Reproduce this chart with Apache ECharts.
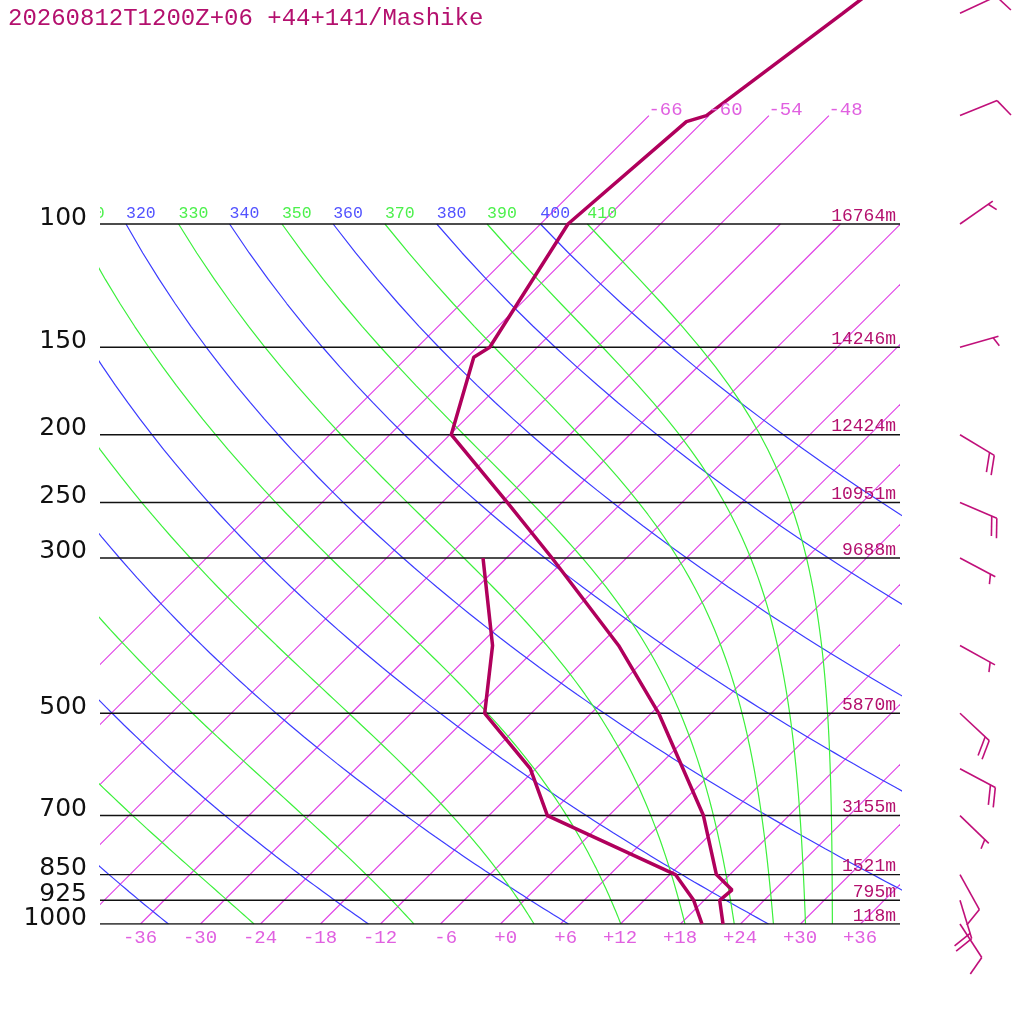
<!DOCTYPE html>
<html>
<head>
<meta charset="utf-8">
<style>
  html, body { margin: 0; background: #fff; }
  #chart { width: 1024px; height: 1024px; }
</style>
<script src="https://cdn.jsdelivr.net/npm/echarts@6.0.0/dist/echarts.min.js"></script>
</head>
<body>
<div id="chart"></div>
<script>
var chartDom = document.getElementById('chart');
var myChart = echarts.init(chartDom, null, { renderer: 'canvas' });

const TITLE = '20260812T1200Z+06 +44+141/Mashike';

// pressure levels drawn as horizontal lines, with geopotential heights
const pressureLevels = [100, 150, 200, 250, 300, 500, 700, 850, 925, 1000];
const heights = [16764, 14246, 12424, 10951, 9688, 5870, 3155, 1521, 795, 118];

// background grid
const isotherms = [-66, -60, -54, -48, -42, -36, -30, -24, -18, -12, -6, 0, 6, 12, 18, 24, 30, 36];
const isothermsTo70 = [-66, -60, -54, -48];
const tempTicks = [-36, -30, -24, -18, -12, -6, 0, 6, 12, 18, 24, 30, 36];
const dryTheta = [240, 260, 280, 300, 320, 340, 360, 380, 400];
const moistThetaE = [250, 270, 290, 310, 330, 350, 370, 390, 410];

// sounding
const tempP = [1000, 925, 894, 850, 700, 500, 400, 300, 250, 200, 155, 150, 100, 71.4, 70, 50, 40];
const tempC = [22.3, 19.6, 19.8, 16.7, 9.5, -5.2, -16.0, -31.4, -41.4, -53.8, -59.3, -58.7, -63.2, -61.6, -60.2, -56.8, -54.6];
const dewP = [1000, 925, 850, 700, 600, 500, 400, 300];
const dewC = [20.2, 17.0, 12.6, -6.1, -12.5, -22.6, -28.6, -38.3];

// winds (direction deg, speed kt)
const windP = [50, 70, 100, 150, 200, 250, 300, 400, 500, 600, 700, 850, 925, 1000];
const windDir = [65, 68, 55, 74, 121, 113, 118, 119, 133, 118, 134, 151, 163, 147];
const windKt = [10, 10, 5, 5, 20, 20, 5, 5, 20, 20, 5, 10, 20, 10];

const SKEW = 70;          // deg C of skew per decade of pressure
const BARB_X = 46;        // x (skewed units) where barbs are anchored
const Y_TOP = 924 / 700;  // top of plot in log10(1000/p)

const C_ISO = '#e040e6', C_DRY = '#3c3cff', C_MOIST = '#3cf03c';
const C_SND = '#b0005c', C_TXT = '#b4106e';

function lp(p) { return Math.log10(1000 / p); }
function sk(t, p) { return [t + SKEW * lp(p), lp(p)]; }

// thermodynamics for the adiabats
function esat(tc) { return 6.112 * Math.exp(17.67 * tc / (tc + 243.5)); }
function rsat(tk, p) { const e = esat(tk - 273.15); return 0.622 * e / (p - e); }
function thetaE(tk, p) {
  const r = rsat(tk, p) * 1000;
  return tk * Math.pow(1000 / p, 0.2854 * (1 - 0.28e-3 * r)) *
    Math.exp((3.376 / tk - 0.00254) * r * (1 + 0.81e-3 * r));
}
function lapse(tk, p) {
  const rs = rsat(tk, p);
  const lv = 2.501e6 - 2370 * (tk - 273.15);
  return (287.04 * tk + lv * rs) /
    (p * (1005.7 + lv * lv * rs * 0.622 / (287.04 * tk * tk)));
}
function moistLine(te) {
  let lo = 200, hi = 330;
  for (let i = 0; i < 60; i++) {
    const mid = (lo + hi) / 2;
    if (thetaE(mid, 1000) > te) hi = mid; else lo = mid;
  }
  let t = (lo + hi) / 2, p = 1000;
  const pts = [sk(t - 273.15, p)];
  const dp = -2;
  while (p > 100.5) {
    const k1 = lapse(t, p);
    const k2 = lapse(t + dp / 2 * k1, p + dp / 2);
    const k3 = lapse(t + dp / 2 * k2, p + dp / 2);
    const k4 = lapse(t + dp * k3, p + dp);
    t += dp / 6 * (k1 + 2 * k2 + 2 * k3 + k4);
    p += dp;
    if (Math.round(p) % 10 === 0) pts.push(sk(t - 273.15, p));
  }
  return pts;
}
function dryLine(th) {
  const pts = [];
  for (let p = 1000; p >= 100; p -= 10) pts.push(sk(th * Math.pow(p / 1000, 0.2857) - 273.15, p));
  return pts;
}

function plain(data, color, width, z) {
  return {
    type: 'line', data: data, symbol: 'none', silent: true, z: z,
    color: color,
    itemStyle: { color: color },
    lineStyle: { color: color, width: width, opacity: 1 }
  };
}

const series = [];

// isotherms: straight segments, 1000 hPa up to their top level
series.push({
  type: 'custom', coordinateSystem: 'cartesian2d', clip: true, silent: true, z: 2,
  data: isotherms.map(t => [t, isothermsTo70.includes(t) ? 70 : 100]),
  renderItem: (params, api) => {
    const t = api.value(0), top = api.value(1);
    const a = api.coord(sk(t, 1000)), b = api.coord(sk(t, top));
    return {
      type: 'line', shape: { x1: a[0] + 0.5, y1: a[1], x2: b[0] + 0.5, y2: b[1] },
      style: { stroke: C_ISO, lineWidth: 1.15 }
    };
  }
});

const dryLines = dryTheta.map(dryLine);
const moistLines = moistThetaE.map(moistLine);
dryLines.forEach(d => series.push(plain(d, C_DRY, 1.2, 2)));
moistLines.forEach(d => series.push(plain(d, C_MOIST, 1.2, 2)));
pressureLevels.forEach(p => series.push(plain([[-40, lp(p)], [40, lp(p)]], '#111', 1.4, 3)));

series.push(plain(tempP.map((p, i) => sk(tempC[i], p)), C_SND, 3.5, 5));
series.push(plain(dewP.map((p, i) => sk(dewC[i], p)), C_SND, 3.5, 5));

// theta / theta-e labels at 100 hPa (clipped to the plot)
const thetaLabels = [];
dryTheta.forEach((th, i) => thetaLabels.push({ v: th, c: '#5252ff', pt: dryLines[i][dryLines[i].length - 1] }));
moistThetaE.forEach((th, i) => thetaLabels.push({ v: th, c: '#4cf04c', pt: moistLines[i][moistLines[i].length - 1] }));
series.push({
  type: 'custom', coordinateSystem: 'cartesian2d', clip: true, silent: true, z: 6,
  data: thetaLabels.map(l => l.pt),
  renderItem: (params, api) => {
    const c = api.coord([api.value(0), api.value(1)]);
    const l = thetaLabels[params.dataIndex];
    return {
      type: 'text', x: c[0], y: c[1] - 1.5,
      style: { text: String(l.v), fill: l.c, fontSize: 16.5, fontFamily: 'Liberation Mono', align: 'left', verticalAlign: 'bottom' }
    };
  }
});

// isotherm labels at 70 hPa
series.push({
  type: 'custom', coordinateSystem: 'cartesian2d', clip: false, silent: true, z: 6,
  data: isothermsTo70.map(t => sk(t, 70)),
  renderItem: (params, api) => {
    const c = api.coord([api.value(0), api.value(1)]);
    return {
      type: 'text', x: c[0], y: c[1] + 4,
      style: { text: String(isothermsTo70[params.dataIndex]), fill: '#e060e0', fontSize: 19, fontFamily: 'Liberation Mono', align: 'left', verticalAlign: 'bottom' }
    };
  }
});

// heights on the right
series.push({
  type: 'custom', coordinateSystem: 'cartesian2d', clip: false, silent: true, z: 6,
  data: pressureLevels.map(p => [40, lp(p)]),
  renderItem: (params, api) => {
    const c = api.coord([api.value(0), api.value(1)]);
    return {
      type: 'text', x: c[0] - 4, y: c[1] + 1,
      style: { text: heights[params.dataIndex] + 'm', fill: C_TXT, fontSize: 18, fontFamily: 'Liberation Mono', align: 'right', verticalAlign: 'bottom' }
    };
  }
});

// pressure labels on the left
series.push({
  type: 'custom', coordinateSystem: 'cartesian2d', clip: false, silent: true, z: 6,
  data: pressureLevels.map(p => [-40, lp(p)]),
  renderItem: (params, api) => {
    const c = api.coord([api.value(0), api.value(1)]);
    return {
      type: 'text', x: c[0] - 13, y: c[1] - 6,
      style: { text: String(pressureLevels[params.dataIndex]), fill: '#111', fontSize: 25, fontFamily: 'DejaVu Sans', align: 'right', verticalAlign: 'middle' }
    };
  }
});

// wind barbs
series.push({
  type: 'custom', coordinateSystem: 'cartesian2d', clip: false, silent: true, z: 6,
  data: windP.map((p, i) => [BARB_X, lp(p), windDir[i], windKt[i]]),
  renderItem: (params, api) => {
    const b = api.coord([api.value(0), api.value(1)]);
    const a = (api.value(2) - 90) * Math.PI / 180;
    const dx = Math.cos(a), dy = Math.sin(a);
    const tip = [b[0] + 40 * dx, b[1] + 40 * dy];
    const fa = a + 68 * Math.PI / 180;
    const fx = Math.cos(fa), fy = Math.sin(fa);
    const st = { stroke: '#c0107a', lineWidth: 1.6 };
    const kids = [{ type: 'line', shape: { x1: b[0], y1: b[1], x2: tip[0], y2: tip[1] }, style: st }];
    const spd = api.value(3);
    const full = Math.floor(spd / 10), half = (spd % 10) >= 5 ? 1 : 0;
    let pos = 0;
    for (let i = 0; i < full; i++) {
      const s = [tip[0] - pos * dx, tip[1] - pos * dy];
      kids.push({ type: 'line', shape: { x1: s[0], y1: s[1], x2: s[0] + 20 * fx, y2: s[1] + 20 * fy }, style: st });
      pos += 5.5;
    }
    if (half) {
      if (pos === 0) pos = 5.5;
      const s = [tip[0] - pos * dx, tip[1] - pos * dy];
      kids.push({ type: 'line', shape: { x1: s[0], y1: s[1], x2: s[0] + 10 * fx, y2: s[1] + 10 * fy }, style: st });
    }
    return { type: 'group', children: kids };
  }
});

var option = {
  animation: false,
  backgroundColor: '#fff',
  title: {
    text: TITLE, left: 8, top: 7, padding: 0,
    textStyle: { fontFamily: 'Liberation Mono', fontSize: 24, fontWeight: 'normal', color: C_TXT }
  },
  grid: { left: 100, right: 124, top: 0, bottom: 100, containLabel: false, outerBoundsMode: 'none' },
  xAxis: {
    type: 'value', min: -40, max: 40,
    axisLine: { show: false }, axisTick: { show: false }, splitLine: { show: false },
    axisLabel: {
      customValues: tempTicks, margin: 4,
      color: '#e060e0', fontSize: 19, fontFamily: 'Liberation Mono',
      formatter: v => { let s = (v >= 0 ? '+' : '') + v; while (s.length < 3) s = ' ' + s; return s; }
    }
  },
  yAxis: {
    type: 'value', min: 0, max: Y_TOP,
    axisLine: { show: false }, axisTick: { show: false }, splitLine: { show: false },
    axisLabel: { show: false }
  },
  series: series
};

option && myChart.setOption(option);
</script>
</body>
</html>
